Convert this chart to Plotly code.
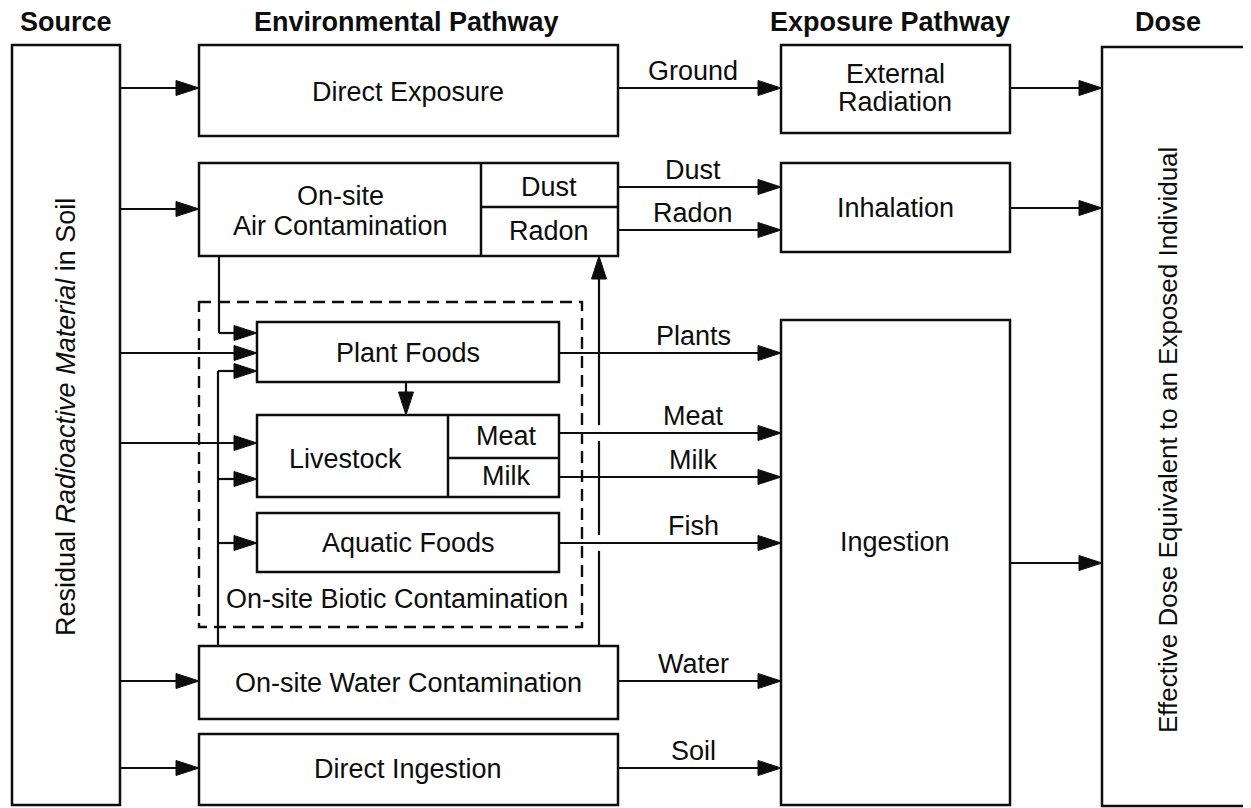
import plotly.graph_objects as go

# ---------------- data (diagram content) ----------------
headers = ["Source", "Environmental Pathway", "Exposure Pathway", "Dose"]
header_x = [66, 406, 890, 1168]

# boxes: (x0, y0, x1, y1) in page pixels, y downward
boxes = {
    "source": (12, 45, 120, 805),
    "direct_exposure": (199, 45, 618, 136),
    "air": (199, 163, 618, 256),
    "plant": (257, 322, 559, 382),
    "livestock": (257, 415, 559, 497),
    "aquatic": (257, 513, 559, 572),
    "water": (199, 646, 618, 719),
    "direct_ingestion": (199, 734, 618, 805),
    "external": (781, 45, 1010, 133),
    "inhalation": (781, 163, 1010, 252),
    "ingestion": (781, 320, 1010, 805),
    "dose": (1102, 47, 1248, 806),
}
dividers = [
    (481, 163, 481, 256), (481, 207, 618, 207),   # Dust / Radon cells
    (448, 415, 448, 497), (448, 458, 559, 458),   # Meat / Milk cells
]
dashed_box = (199, 302, 582, 627)

box_labels = [
    ("Direct Exposure", 408, 92), ("External", 895, 74), ("Radiation", 895, 102),
    ("On-site", 340, 196), ("Air Contamination", 340, 226),
    ("Dust", 549, 187), ("Radon", 549, 231), ("Inhalation", 895, 208),
    ("Plant Foods", 408, 353), ("Livestock", 345, 459),
    ("Meat", 506, 436), ("Milk", 506, 476), ("Aquatic Foods", 408, 543),
    ("On-site Biotic Contamination", 397, 599),
    ("On-site Water Contamination", 408, 683), ("Direct Ingestion", 408, 769),
    ("Ingestion", 895, 542),
]
pathway_labels = ["Ground", "Dust", "Radon", "Plants", "Meat", "Milk", "Fish", "Water", "Soil"]
pathway_y = [88, 187, 230, 353, 433, 477, 543, 681, 768]
pathway_x0 = [618, 618, 618, 559, 559, 559, 559, 618, 618]

# horizontal arrows: (x0, x1, y)
source_arrows = [(120, 199, 88), (120, 199, 209), (120, 257, 353), (120, 257, 443),
                 (120, 199, 681), (120, 199, 768)]
dose_arrows = [(1010, 1102, 88), (1010, 1102, 208), (1010, 1102, 563)]
branch_arrows = [(219, 257, 333), (218, 257, 371), (218, 257, 479), (218, 257, 543)]

# ---------------- drawing ----------------
FONT = "Liberation Sans, Arial, Helvetica, sans-serif"
INK = "#0d0d0d"
BODY_SIZE = 27
shapes = []
ann = []

def rect(b, w=2.5, dash=None):
    shapes.append(dict(type="rect", xref="x", yref="y", x0=b[0], y0=b[1], x1=b[2], y1=b[3],
                       line=dict(color=INK, width=w, dash=dash), fillcolor="rgba(0,0,0,0)"))

def line(x0, y0, x1, y1, w=2.2):
    shapes.append(dict(type="line", xref="x", yref="y", x0=x0, y0=y0, x1=x1, y1=y1,
                       line=dict(color=INK, width=w)))

def head(xt, yt, d, L=23, h=7.5):
    if d == "r":
        p = f"M {xt} {yt} L {xt-L} {yt-h} L {xt-L} {yt+h} Z"
    elif d == "d":
        p = f"M {xt} {yt} L {xt-h} {yt-L} L {xt+h} {yt-L} Z"
    else:  # up
        p = f"M {xt} {yt} L {xt-h} {yt+L} L {xt+h} {yt+L} Z"
    shapes.append(dict(type="path", xref="x", yref="y", path=p, fillcolor=INK,
                       line=dict(color=INK, width=1)))

def harrow(x0, x1, y):
    line(x0, y, x1 - 10, y)
    head(x1, y, "r")

def text(s, x, y, size=BODY_SIZE, angle=0, bold=False):
    if bold:
        s = f"<b>{s}</b>"
    ann.append(dict(text=s, x=x, y=y, xref="x", yref="y", showarrow=False,
                    xanchor="center", yanchor="middle", textangle=angle,
                    font=dict(family=FONT, size=size, color=INK)))

for b in boxes.values():
    rect(b)
for d in dividers:
    line(*d, w=2.5)
rect(dashed_box, w=2.4, dash="12px,7px")

for a in source_arrows + dose_arrows + branch_arrows:
    harrow(*a)
for x0, y in zip(pathway_x0, pathway_y):
    harrow(x0, 781, y)

# connector from air box down to Plant Foods
line(219, 256, 219, 333)
# connector from water box up to foods
line(218, 646, 218, 371)
# plant -> livestock
line(406, 382, 406, 405)
head(406, 415, "d")
# water -> radon (with line jumps at Meat and Fish)
line(599, 646, 599, 551)
line(599, 535, 599, 441)
line(599, 425, 599, 268)
head(599, 256, "u")

for s, x in zip(headers, header_x):
    text(s, x, 22, size=27, bold=True)
for s, x, y in box_labels:
    text(s, x, y)
for s, x0, y in zip(pathway_labels, pathway_x0, pathway_y):
    text(s, 693, y - 17)

text("Residual <i>Radioactive Material</i> in Soil", 66, 417, angle=-90)
text("Effective Dose Equivalent to an Exposed Individual", 1168, 440, size=26, angle=-90)

# The page body has an 8px default margin; the figure covers page pixels 8..1251 x 8..808
OFF = 8
fig = go.Figure()
fig.update_layout(
    width=1251 - OFF, height=808 - OFF, margin=dict(l=0, r=0, t=0, b=0),
    paper_bgcolor="white", plot_bgcolor="white",
    xaxis=dict(range=[OFF, 1251], visible=False, fixedrange=True),
    yaxis=dict(range=[808, OFF], visible=False, fixedrange=True),
    shapes=shapes, annotations=ann, showlegend=False,
)
fig.write_html("out.html")
